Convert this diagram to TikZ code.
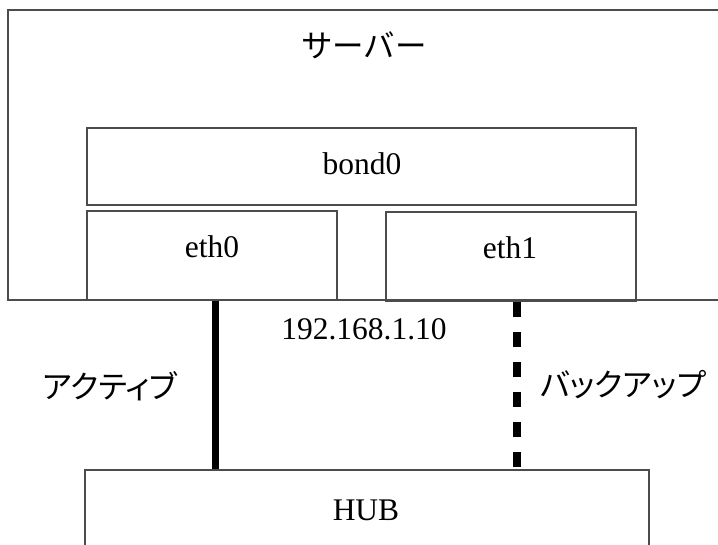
\documentclass[tikz,border=0pt]{standalone}
\usepackage{fontspec}
\setmainfont{Liberation Serif}
\newfontfamily\jp{Noto Sans CJK JP}
\newfontfamily\jpp[RawFeature=+palt]{Noto Sans CJK JP}
\begin{document}
\begin{tikzpicture}[x=1pt,y=-1pt,
  box/.style={draw=black!70, line width=1.2pt, rectangle, inner sep=0pt},
  lbl/.style={inner sep=0pt, font=\fontsize{31.5}{36}\selectfont},
  solidlink/.style={line width=7.5pt, black},
  dashlink/.style={line width=8pt, black, dash pattern=on 15pt off 15pt}]
\useasboundingbox (0,0) rectangle (718,545);
\clip (0,0) rectangle (718,545);
\fill[white] (0,0) rectangle (718,545);
% boxes
\node[box, minimum width=732, minimum height=290] (server) at (374,155) {};
\node[box, minimum width=549, minimum height=77] (bond) at (361.5,166.5) {};
\node[box, minimum width=250, minimum height=89] (eth0) at (212,255.5) {};
\node[box, minimum width=250, minimum height=89] (eth1) at (511,256.5) {};
\node[box, minimum width=564, minimum height=140] (hub) at (367,540) {};
% labels
\node[lbl, font=\fontsize{31.5}{36}\jp] (servertxt) at (364,45) {サーバー};
\node[lbl, anchor=base] (bondtxt) at (362,175) {bond0};
\node[lbl, anchor=base] (eth0txt) at (212,258) {eth0};
\node[lbl, anchor=base] (eth1txt) at (510,259) {eth1};
\node[lbl, anchor=base] (iptxt) at (364,340) {192.168.1.10};
\node[lbl, anchor=base] (hubtxt) at (366,520) {HUB};
\node[lbl, font=\fontsize{31.5}{36}\jpp] (acttxt) at (110,386) {アクティブ};
\node[lbl, font=\fontsize{31.5}{36}\jpp] (bktxt) at (623,385) {バックアップ};
% connectors
\draw[solidlink] ([xshift=3.3pt]eth0.south) -- ([xshift=3.3pt]eth0.south |- hub.north);
\draw[dashlink] ([xshift=5.7pt]eth1.south) -- ([xshift=5.7pt]eth1.south |- hub.north);
\end{tikzpicture}
\end{document}
